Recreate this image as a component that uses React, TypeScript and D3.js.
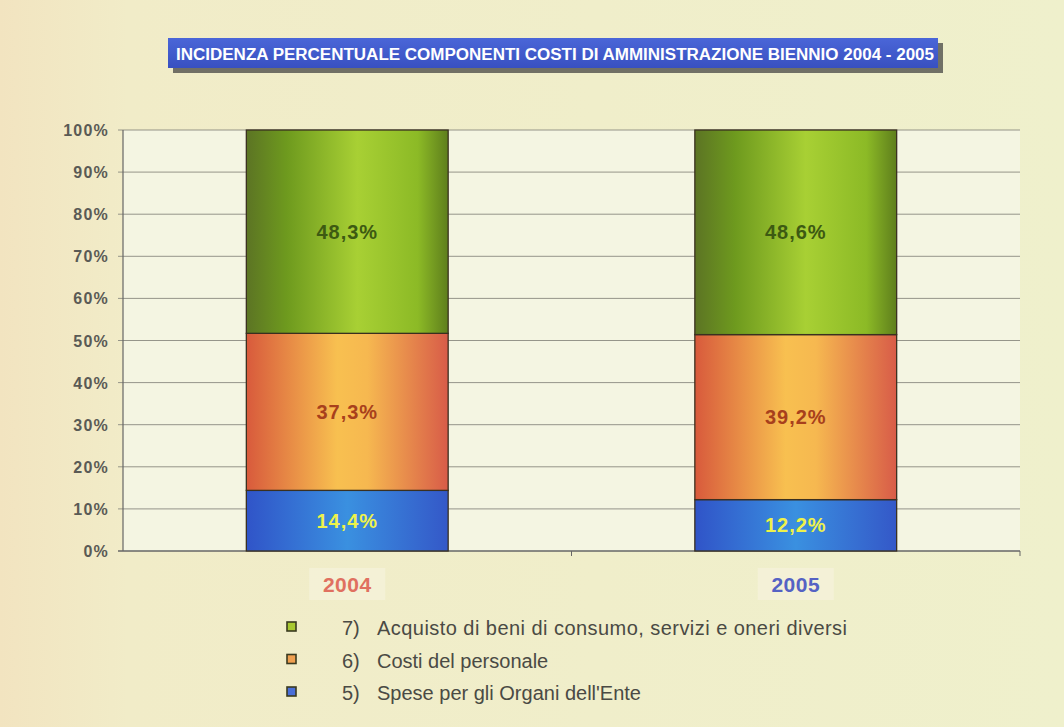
import React from "react";
import * as d3 from "d3";

const categories = ["2004", "2005"];
const seriesNames = ["5) Spese per gli Organi dell'Ente", "6) Costi del personale", "7) Acquisto di beni di consumo, servizi e oneri diversi"];
const organi = [14.4, 12.2];
const personale = [37.3, 39.2];
const acquisto = [48.3, 48.6];
const yTicks = [0, 10, 20, 30, 40, 50, 60, 70, 80, 90, 100];
const title = "INCIDENZA PERCENTUALE COMPONENTI COSTI DI AMMINISTRAZIONE BIENNIO 2004 - 2005";

const W = 1064, H = 727;
const m = { left: 123, right: 1020, top: 130, bottom: 551 };
const FONT = "Liberation Sans, Arial, sans-serif";

export default function App() {
  const x = d3.scaleBand().domain(categories).range([m.left, m.right]).paddingInner(0.55).paddingOuter(0.275);
  const y = d3.scaleLinear().domain([0, 100]).range([m.bottom, m.top]);
  const series = [
    { key: "organi", vals: organi, grad: "gBlue", label: "#eef24a", legend: "#4a6fd8" },
    { key: "personale", vals: personale, grad: "gOrange", label: "#a8401c", legend: "#f0a050" },
    { key: "acquisto", vals: acquisto, grad: "gGreen", label: "#3d5a12", legend: "#a8c830" },
  ];
  const fmt = (v: number) => v.toFixed(1).replace(".", ",") + "%";
  const catColors = ["#e07060", "#5562c4"];
  const legendOrder = [2, 1, 0];
  return (
    <svg width={W} height={H} style={{ position: "absolute", left: 0, top: 0, display: "block" }}>
      <defs>
        <linearGradient id="bg" x1="0" x2="1" y1="0" y2="0">
          <stop offset="0" stopColor="#f2e4c0" />
          <stop offset="0.12" stopColor="#f1ecc8" />
          <stop offset="1" stopColor="#eff0cc" />
        </linearGradient>
        <linearGradient id="gGreen" x1="0" x2="1">
          <stop offset="0" stopColor="#5c7424" />
          <stop offset="0.2" stopColor="#6e9a1e" />
          <stop offset="0.55" stopColor="#a8d034" />
          <stop offset="0.85" stopColor="#8cba26" />
          <stop offset="1" stopColor="#5e7e1c" />
        </linearGradient>
        <linearGradient id="gOrange" x1="0" x2="1">
          <stop offset="0" stopColor="#d85a3c" />
          <stop offset="0.45" stopColor="#f8c050" />
          <stop offset="0.6" stopColor="#f6b850" />
          <stop offset="1" stopColor="#d85c48" />
        </linearGradient>
        <linearGradient id="gBlue" x1="0" x2="1">
          <stop offset="0" stopColor="#3054c8" />
          <stop offset="0.5" stopColor="#3a90e0" />
          <stop offset="1" stopColor="#3458c8" />
        </linearGradient>
        <linearGradient id="titleGrad" x1="0" x2="0" y1="0" y2="1">
          <stop offset="0" stopColor="#4a66d8" />
          <stop offset="1" stopColor="#3850c0" />
        </linearGradient>
      </defs>
      <rect x={0} y={0} width={W} height={H} fill="url(#bg)" />
      {/* title */}
      <rect x={173} y={43} width={770} height={30} fill="#3a3a3a" opacity={0.7} />
      <rect x={168} y={38} width={770} height={30} fill="url(#titleGrad)" />
      <text x={555} y={60} textAnchor="middle" fill="#ffffff" fontFamily={FONT} fontWeight="bold" fontSize={16} textLength={758} lengthAdjust="spacingAndGlyphs">{title}</text>
      {/* plot area */}
      <rect x={m.left} y={m.top} width={m.right - m.left} height={m.bottom - m.top} fill="#f4f5e2" />
      {yTicks.map((t) => (
        <g key={t}>
          <line x1={m.left - 5} x2={m.right} y1={y(t)} y2={y(t)} stroke={t === 0 ? "#666" : "#8a8a80"} strokeWidth={t === 0 ? 1.3 : 0.9} />
          <text x={109} y={y(t) + 6} textAnchor="end" fill="#5a5a55" fontFamily={FONT} fontWeight="bold" fontSize={16} letterSpacing={1.2}>{t}%</text>
        </g>
      ))}
      <line x1={m.left} x2={m.left} y1={m.top} y2={m.bottom} stroke="#666" strokeWidth={1.2} />
      <line x1={(m.left + m.right) / 2} x2={(m.left + m.right) / 2} y1={m.bottom} y2={m.bottom + 5} stroke="#666" />
      <line x1={m.right} x2={m.right} y1={m.bottom} y2={m.bottom + 5} stroke="#666" />
      {/* bars */}
      {categories.map((c, i) => {
        let acc = 0;
        const bx = x(c)!;
        const bw = x.bandwidth();
        return (
          <g key={c}>
            {series.map((s) => {
              const y0 = acc;
              const y1 = acc + s.vals[i];
              acc = y1;
              return (
                <g key={s.key}>
                  <rect x={bx} y={y(y1)} width={bw} height={y(y0) - y(y1)} fill={`url(#${s.grad})`} stroke="#3a3020" strokeWidth={1.3} />
                  <text x={bx + bw / 2} y={(y(y0) + y(y1)) / 2 + 7} textAnchor="middle" fill={s.label} fontFamily={FONT} fontWeight="bold" fontSize={20} letterSpacing={1}>{fmt(s.vals[i])}</text>
                </g>
              );
            })}
            <rect x={bx + bw / 2 - 38} y={568} width={76} height={32} fill="#f5f1da" opacity={0.8} />
            <text x={bx + bw / 2} y={592} textAnchor="middle" fill={catColors[i]} fontFamily={FONT} fontWeight="bold" fontSize={21} letterSpacing={0.5}>{c}</text>
          </g>
        );
      })}
      {/* legend */}
      {legendOrder.map((si, k) => {
        const base = 635 + k * 32.5;
        const name = seriesNames[si];
        const num = name.slice(0, 2);
        const rest = name.slice(3);
        return (
          <g key={si}>
            <rect x={287} y={base - 13} width={9} height={9} fill={series[si].legend} stroke="#3a3a20" strokeWidth={1.6} />
            <text x={342} y={base} fill="#4a4a44" fontFamily={FONT} fontSize={20}>{num}</text>
            <text x={377} y={base} fill="#4a4a44" fontFamily={FONT} fontSize={20} textLength={si === 2 ? 470 : undefined}>{rest}</text>
          </g>
        );
      })}
    </svg>
  );
}
